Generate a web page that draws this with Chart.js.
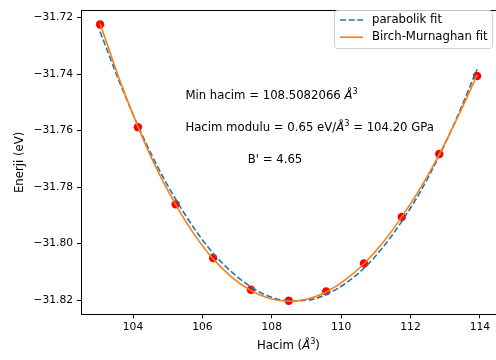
<!DOCTYPE html>
<html>
<head>
<meta charset="utf-8">
<script src="https://cdn.jsdelivr.net/npm/chart.js@4.4.0/dist/chart.umd.min.js"></script>
<style>
  html, body { margin: 0; padding: 0; background: #fff; overflow: hidden; }
  #wrap { width: 496px; height: 360px; overflow: hidden; }
</style>
</head>
<body>
<div id="wrap"><canvas id="eos" width="500" height="360"></canvas></div>
<script>
// measured points
var volumes = [103.05, 104.14, 105.23, 106.31, 107.40, 108.49, 109.57, 110.66, 111.75, 112.83, 113.92];
var energies = [-31.7225, -31.7588, -31.7861, -31.8051, -31.8163, -31.8202, -31.8169, -31.8070, -31.7906, -31.7683, -31.7407];

// fit curves
var fitVolumes = [103.05, 103.60, 104.14, 104.68, 105.23, 105.77, 106.31, 106.86, 107.40, 107.94, 108.49,
                  109.03, 109.57, 110.11, 110.66, 111.20, 111.74, 112.29, 112.83, 113.37, 113.92];
var parabolaFit = [-31.7250, -31.7425, -31.7582, -31.7721, -31.7843, -31.7947, -31.8034, -31.8102, -31.8153, -31.8187, -31.8202,
                   -31.8200, -31.8180, -31.8142, -31.8087, -31.8014, -31.7923, -31.7815, -31.7689, -31.7545, -31.7383];
var birchFit = [-31.7221, -31.7416, -31.7586, -31.7735, -31.7862, -31.7968, -31.8054, -31.8120, -31.8166, -31.8194, -31.8204,
                -31.8196, -31.8171, -31.8129, -31.8071, -31.7997, -31.7907, -31.7803, -31.7684, -31.7551, -31.7404];

var xTicks = [104, 106, 108, 110, 112, 114];
var yTicks = [-31.82, -31.80, -31.78, -31.76, -31.74, -31.72];

var FONT = 'DejaVu Sans';
var FS = 10.7;   // tick labels
var LS = 11.7;   // titles, legend, notes

function pairs(xs, ys) {
    return xs.map(function (x, i) { return { x: x, y: ys[i] }; });
}

// draws text with an italic Å and superscript parts
function richText(ctx, x, y, parts, align) {
    var w = 0;
    parts.forEach(function (p) {
        ctx.font = (p.it ? 'italic ' : '') + (p.sup ? LS * 0.7 : LS) + 'px ' + FONT;
        p.w = ctx.measureText(p.t).width;
        w += p.w;
    });
    var cx = align === 'center' ? x - w / 2 : x;
    ctx.textBaseline = 'alphabetic';
    ctx.textAlign = 'left';
    parts.forEach(function (p) {
        ctx.font = (p.it ? 'italic ' : '') + (p.sup ? LS * 0.7 : LS) + 'px ' + FONT;
        ctx.fillText(p.t, cx, p.sup ? y - LS * 0.45 : y);
        cx += p.w;
    });
}

var extras = {
    id: 'extras',
    afterDraw: function (chart) {
        var ctx = chart.ctx;
        var a = chart.chartArea;
        var xs = chart.scales.x, ys = chart.scales.y;
        ctx.save();
        ctx.fillStyle = '#000';

        // top spine
        ctx.strokeStyle = '#000';
        ctx.lineWidth = 1;
        ctx.beginPath();
        ctx.moveTo(a.left, Math.round(a.top) + 0.5);
        ctx.lineTo(a.right, Math.round(a.top) + 0.5);
        ctx.stroke();

        // annotations
        richText(ctx, xs.getPixelForValue(105.51), ys.getPixelForValue(-31.749),
            [{ t: 'Min hacim = 108.5082066 ' }, { t: 'Å', it: true }, { t: '3', sup: true }]);
        richText(ctx, xs.getPixelForValue(105.51), ys.getPixelForValue(-31.7603),
            [{ t: 'Hacim modulu = 0.65 eV/' }, { t: 'Å', it: true }, { t: '3', sup: true }, { t: ' = 104.20 GPa' }]);
        richText(ctx, xs.getPixelForValue(107.31), ys.getPixelForValue(-31.7713),
            [{ t: "B' = 4.65" }]);

        // axis titles
        richText(ctx, (a.left + a.right) / 2, 349,
            [{ t: 'Hacim (' }, { t: 'Å', it: true }, { t: '3', sup: true }, { t: ')' }], 'center');
        ctx.save();
        ctx.translate(20, (a.top + a.bottom) / 2);
        ctx.rotate(-Math.PI / 2);
        ctx.font = LS + 'px ' + FONT;
        ctx.textAlign = 'center';
        ctx.textBaseline = 'middle';
        ctx.fillText('Enerji (eV)', 0, 0);
        ctx.restore();

        // legend
        var bx = 334.5, by = 10.5, bw = 158, bh = 38, r = 3;
        ctx.beginPath();
        ctx.moveTo(bx + r, by);
        ctx.arcTo(bx + bw, by, bx + bw, by + bh, r);
        ctx.arcTo(bx + bw, by + bh, bx, by + bh, r);
        ctx.arcTo(bx, by + bh, bx, by, r);
        ctx.arcTo(bx, by, bx + bw, by, r);
        ctx.closePath();
        ctx.fillStyle = 'rgba(255,255,255,0.8)';
        ctx.fill();
        ctx.strokeStyle = 'rgba(204,204,204,0.9)';
        ctx.lineWidth = 1;
        ctx.stroke();

        var items = [chart.data.datasets[1], chart.data.datasets[2]];
        items.forEach(function (ds, i) {
            var ly = 20 + i * 17.2;
            ctx.strokeStyle = ds.borderColor;
            ctx.lineWidth = 1.6;
            ctx.setLineDash(ds.borderDash || []);
            ctx.beginPath();
            ctx.moveTo(340, ly);
            ctx.lineTo(363, ly);
            ctx.stroke();
            ctx.setLineDash([]);
            ctx.fillStyle = '#000';
            ctx.font = LS + 'px ' + FONT;
            ctx.textAlign = 'left';
            ctx.textBaseline = 'middle';
            ctx.fillText(ds.label, 372, ly);
        });
        ctx.restore();
    }
};

var tickFont = { family: FONT, size: FS };

new Chart(document.getElementById('eos'), {
    type: 'scatter',
    data: {
        datasets: [{
            label: 'data',
            data: pairs(volumes, energies),
            backgroundColor: '#ff0000',
            borderColor: '#ff0000',
            pointRadius: 4.2,
            pointBorderWidth: 0,
            order: 3
        }, {
            label: 'parabolik fit',
            data: pairs(fitVolumes, parabolaFit),
            showLine: true,
            borderColor: '#1f77b4',
            borderWidth: 1.6,
            borderDash: [6, 2.6],
            pointRadius: 0,
            cubicInterpolationMode: 'monotone',
            order: 2
        }, {
            label: 'Birch-Murnaghan fit',
            data: pairs(fitVolumes, birchFit),
            showLine: true,
            borderColor: '#ff7f0e',
            borderWidth: 1.6,
            pointRadius: 0,
            cubicInterpolationMode: 'monotone',
            order: 1
        }]
    },
    options: {
        responsive: false,
        animation: false,
        layout: { padding: { top: 5, right: 2.2, left: 0, bottom: 0 } },
        plugins: {
            legend: { display: false },
            tooltip: { enabled: false }
        },
        scales: {
            x: {
                type: 'linear',
                min: 102.50,
                max: 114.46,
                afterFit: function (s) { s.height = 45.7; },
                afterBuildTicks: function (s) { s.ticks = xTicks.map(function (v) { return { value: v }; }); },
                ticks: {
                    font: tickFont,
                    color: '#000',
                    padding: 3,
                    maxRotation: 0,
                    autoSkip: false,
                    callback: function (v) { return String(v); }
                },
                grid: { drawOnChartArea: false, tickLength: 4, tickColor: '#000' },
                border: { color: '#000', width: 1 }
            },
            y: {
                min: -31.8250,
                max: -31.7175,
                afterFit: function (s) { s.width = 81; },
                afterBuildTicks: function (s) { s.ticks = yTicks.map(function (v) { return { value: v }; }); },
                ticks: {
                    font: tickFont,
                    color: '#000',
                    padding: 4,
                    autoSkip: false,
                    callback: function (v) { return v.toFixed(2).replace('-', '\u2212'); }
                },
                grid: { drawOnChartArea: false, tickLength: 4, tickColor: '#000' },
                border: { color: '#000', width: 1 }
            }
        }
    },
    plugins: [extras]
});
</script>
</body>
</html>
